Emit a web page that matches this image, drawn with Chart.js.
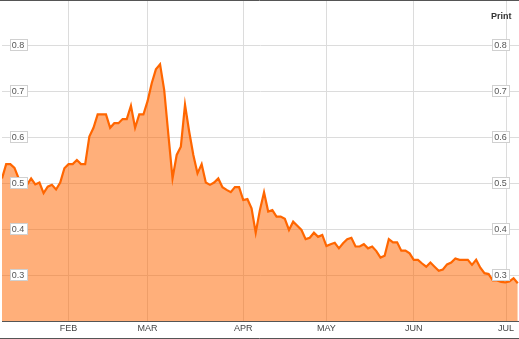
<!DOCTYPE html>
<html>
<head>
<meta charset="utf-8">
<script src="https://cdn.jsdelivr.net/npm/chart.js@4"></script>
<style>
  html, body { margin: 0; padding: 0; background: #fff; }
  #wrap { position: relative; width: 519px; height: 339px; }
  #print { position: absolute; left: 491px; top: 11px; font: bold 9px "Liberation Sans", Arial, sans-serif; color: #333; }
</style>
</head>
<body>
<div id="wrap">
  <canvas id="c" width="519" height="339"></canvas>
  <div id="print">Print</div>
</div>
<script>
// ---- data (one value per trading day) ----
const prices = [
  0.510, 0.541, 0.541, 0.533, 0.510, 0.490, 0.496, 0.510, 0.497, 0.501,
  0.478, 0.492, 0.496, 0.486, 0.501, 0.532, 0.541, 0.541, 0.550, 0.541,
  0.541, 0.601, 0.620, 0.649, 0.649, 0.649, 0.620, 0.630, 0.630, 0.639,
  0.639, 0.668, 0.620, 0.649, 0.649, 0.678, 0.717, 0.747, 0.758, 0.702,
  0.605, 0.510, 0.561, 0.579, 0.670, 0.612, 0.561, 0.521, 0.541, 0.501,
  0.496, 0.501, 0.510, 0.491, 0.485, 0.480, 0.491, 0.491, 0.463, 0.465,
  0.445, 0.392, 0.441, 0.480, 0.438, 0.441, 0.427, 0.427, 0.422, 0.398,
  0.416, 0.407, 0.398, 0.378, 0.381, 0.392, 0.383, 0.387, 0.363, 0.367,
  0.370, 0.358, 0.369, 0.378, 0.381, 0.362, 0.362, 0.367, 0.358, 0.362,
  0.352, 0.338, 0.342, 0.378, 0.371, 0.371, 0.353, 0.353, 0.347, 0.333,
  0.333, 0.325, 0.318, 0.327, 0.318, 0.309, 0.312, 0.323, 0.327, 0.336,
  0.333, 0.333, 0.333, 0.322, 0.333, 0.316, 0.304, 0.302, 0.288, 0.288,
  0.285, 0.284, 0.286, 0.293, 0.282
];
const monthLabels = ['FEB', 'MAR', 'APR', 'MAY', 'JUN', 'JUL'];
const monthIndex = [16, 35, 58, 78, 99, 121.2];
const yTicks = [0.3, 0.4, 0.5, 0.6, 0.7, 0.8];
const yTickLabels = ['0.3', '0.4', '0.5', '0.6', '0.7', '0.8'];

const points = prices.map((v, i) => ({ x: i, y: v }));

const decor = {
  id: 'decor',
  afterDatasetsDraw(chart) {
    const ctx = chart.ctx;
    const ys = chart.scales.y;
    ctx.save();
    ctx.font = '9px "Liberation Sans", Arial, sans-serif';
    ctx.textAlign = 'center';
    ctx.textBaseline = 'middle';
    yTicks.forEach((v, i) => {
      const py = Math.round(ys.getPixelForValue(v));
      const txt = yTickLabels[i];
      const w = ctx.measureText(txt).width;
      [18, 500.5].forEach(cx => {
        const bx = Math.round(cx - w / 2 - 2) + 0.5;
        const bw = Math.round(w + 4);
        ctx.fillStyle = '#fff';
        ctx.fillRect(bx, py - 5.5, bw, 11);
        ctx.strokeStyle = '#d0d0d0';
        ctx.lineWidth = 1;
        ctx.strokeRect(bx, py - 5.5, bw, 11);
        ctx.fillStyle = '#555';
        ctx.fillText(txt, cx, py + 0.5);
      });
    });
    ctx.restore();
  },
  afterDraw(chart) {
    const ctx = chart.ctx;
    ctx.save();
    ctx.strokeStyle = '#555';
    ctx.lineWidth = 1;
    ctx.beginPath();
    ctx.moveTo(0, 0.5); ctx.lineTo(chart.width, 0.5);
    ctx.moveTo(0, 338.5); ctx.lineTo(chart.width, 338.5);
    ctx.stroke();
    ctx.restore();
  }
};

new Chart(document.getElementById('c'), {
  type: 'line',
  data: {
    datasets: [{
      data: points,
      borderColor: '#ff6600',
      borderWidth: 2.2,
      backgroundColor: 'rgba(255,102,0,0.52)',
      fill: 'start',
      pointRadius: 0,
      tension: 0
    }]
  },
  options: {
    responsive: false,
    animation: false,
    events: [],
    layout: { padding: { top: 1, left: 2, right: 0, bottom: 0 } },
    plugins: { legend: { display: false }, tooltip: { enabled: false } },
    scales: {
      x: {
        type: 'linear',
        min: 0,
        max: 124.3,
        afterBuildTicks: s => { s.ticks = monthIndex.map(v => ({ value: v })); },
        afterFit: s => { s.height = 18; },
        grid: { color: '#dcdcdc', lineWidth: 1, drawTicks: false },
        border: { display: true, color: '#555', width: 1 },
        ticks: {
          autoSkip: false,
          maxRotation: 0,
          padding: 2,
          color: '#444',
          font: { family: '"Liberation Sans", Arial, sans-serif', size: 9 },
          callback: (v, i) => monthLabels[i]
        }
      },
      y: {
        min: 0.2,
        max: 0.8957,
        afterBuildTicks: s => { s.ticks = yTicks.map(v => ({ value: v })); },
        afterFit: s => { s.width = 0; },
        grid: { color: '#dcdcdc', lineWidth: 1, drawTicks: false },
        border: { display: false },
        ticks: { display: false }
      }
    }
  },
  plugins: [decor]
});
</script>
</body>
</html>
